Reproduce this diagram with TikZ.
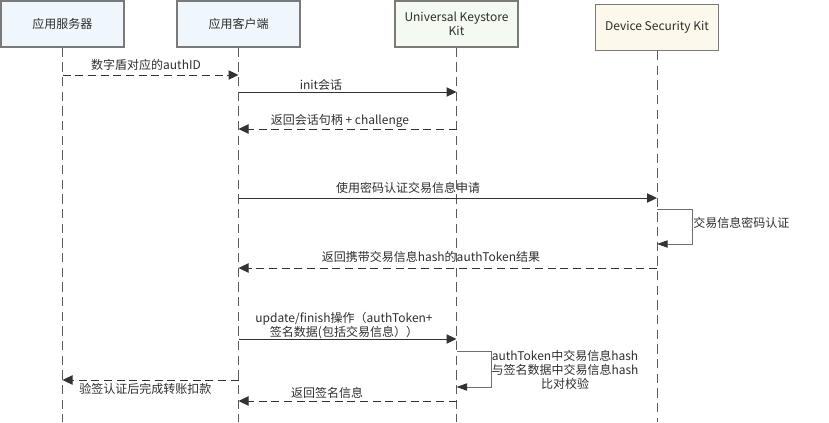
\documentclass[tikz,border=0pt]{standalone}
\usepackage{fontspec}
\setmainfont{Noto Sans CJK SC}
\usetikzlibrary{arrows.meta}
\definecolor{bluefill}{HTML}{EFF7FC}
\definecolor{greenfill}{HTML}{F4F9F1}
\definecolor{yellowfill}{HTML}{FCF8EC}
\definecolor{boxline}{HTML}{7A7A7A}
\definecolor{linecol}{HTML}{333333}
\definecolor{loopcol}{HTML}{707070}
\definecolor{lifecol}{HTML}{5A5A5A}
\definecolor{txtcol}{HTML}{2E2E2E}
\tikzset{
  actor/.style={draw=boxline, line width=0.8pt, minimum width=92.25pt, minimum height=34.5pt, inner sep=0pt, align=center, text=txtcol},
  lifeline/.style={draw=lifecol, line width=0.7pt, dash pattern=on 7pt off 4pt},
  callmsg/.style={draw=linecol, line width=0.75pt, -{Triangle[length=7.5pt,width=7pt]}},
  retmsg/.style={draw=linecol, line width=0.75pt, dash pattern=on 6pt off 3.5pt, -{Triangle[length=7.5pt,width=7pt]}},
  selfmsg/.style={draw=loopcol, line width=0.75pt, -{Triangle[length=8pt,width=5.5pt,color=linecol]}},
  lbl/.style={text=txtcol, inner sep=0pt}
}
\begin{document}
\begin{tikzpicture}[x=0.75pt,y=-0.75pt, font=\fontsize{9}{10.5}\selectfont]
\useasboundingbox (0,0) rectangle (829,422);
% actors
\node[actor, fill=bluefill] (A) at (62.5,24) {应用服务器};
\node[actor, fill=bluefill] (B) at (238.5,24) {应用客户端};
\node[actor, fill=greenfill] (C) at (456.5,24) {Universal Keystore\\Kit};
\node[actor, fill=yellowfill] (D) at (657,27.5) {Device Security Kit};
% lifeline ends
\coordinate (Ae) at (62.5,422);
\coordinate (Be) at (238.5,422);
\coordinate (Ce) at (456.5,422);
\coordinate (De) at (657,422);
\draw[lifeline] (A.south) -- (Ae);
\draw[lifeline] (B.south) -- (Be);
\draw[lifeline] (C.south) -- (Ce);
\draw[lifeline] (D.south) -- (De);
% message points
\coordinate (a1) at (62.5,75);  \coordinate (b1) at (238.5,75);
\coordinate (b2) at (238.5,92); \coordinate (c2) at (456.5,92);
\coordinate (c3) at (456.5,129); \coordinate (b3) at (238.5,129);
\coordinate (b4) at (238.5,198); \coordinate (d4) at (657,198);
\coordinate (d5a) at (657,209); \coordinate (d5b) at (692,209); \coordinate (d5c) at (692,244); \coordinate (d5d) at (657,244);
\coordinate (d6) at (657,268); \coordinate (b6) at (238.5,268);
\coordinate (b7) at (238.5,339); \coordinate (c7) at (456.5,339);
\coordinate (c8a) at (456.5,351); \coordinate (c8b) at (491,351); \coordinate (c8c) at (491,387); \coordinate (c8d) at (456.5,387);
\coordinate (b9) at (238.5,380); \coordinate (a9) at (62.5,380);
\coordinate (c10) at (456.5,401); \coordinate (b10) at (238.5,401);
% messages
\draw[retmsg] (a1) -- (b1);
\node[lbl] (l1) at (146,65) {数字盾对应的authID};
\draw[callmsg] (b2) -- (c2);
\node[lbl] (l2) at (321,85) {init会话};
\draw[retmsg] (c3) -- (b3);
\node[lbl] (l3) at (340,121) {返回会话句柄 + challenge};
\draw[callmsg] (b4) -- (d4);
\node[lbl] (l4) at (408,188) {使用密码认证交易信息申请};
\draw[selfmsg] (d5a) -- (d5b) -- (d5c) -- (d5d);
\node[lbl, anchor=west] (l5) at (693,223) {交易信息密码认证};
\draw[retmsg] (d6) -- (b6);
\node[lbl] (l6) at (431,257) {返回携带交易信息hash的authToken结果};
\draw[callmsg] (b7) -- (c7);
\node[lbl, align=center] (l7) at (344,326) {update/finish操作（authToken+\\签名数据(包括交易信息））};
\draw[selfmsg] (c8a) -- (c8b) -- (c8c) -- (c8d);
\node[lbl, align=center] (l8) at (565,370) {authToken中交易信息hash\\与签名数据中交易信息hash\\比对校验};
\draw[retmsg] (b9) -- (a9);
\node[lbl, anchor=west] (l9) at (79,389) {验签认证后完成转账扣款};
\draw[retmsg] (c10) -- (b10);
\node[lbl] (l10) at (327,393) {返回签名信息};
\end{tikzpicture}
\end{document}
